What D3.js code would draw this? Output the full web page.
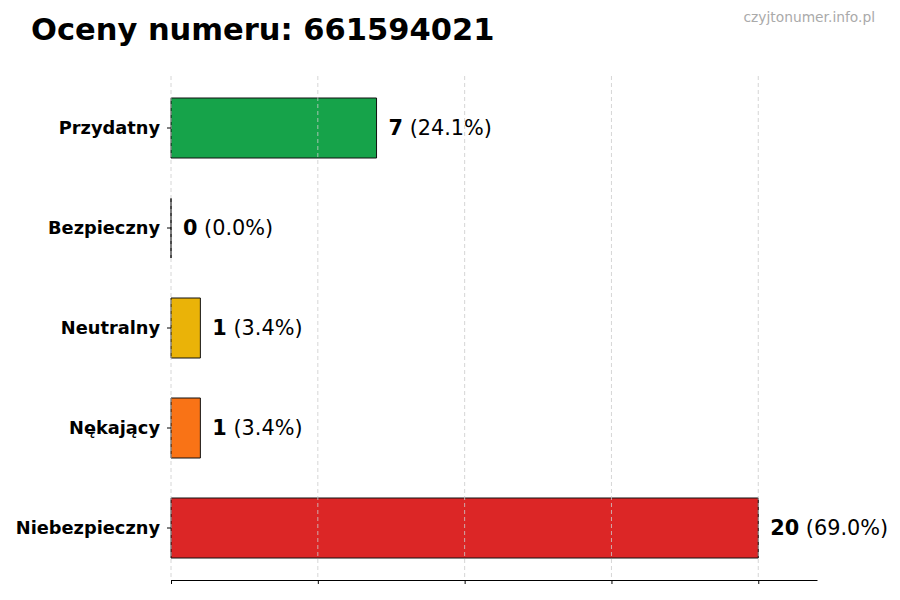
<!doctype html>
<html lang="pl">
<head>
<meta charset="UTF-8">
<title>Oceny numeru</title>
<style>
  body { margin: 0; background: #fff; }
  svg { font-family: "DejaVu Sans", sans-serif; }
</style>
</head>
<body>
<svg width="900" height="600"></svg>
<script src="https://cdn.jsdelivr.net/npm/d3@7"></script>
<script>
var categories = ['Przydatny', 'Bezpieczny', 'Neutralny', 'Nękający', 'Niebezpieczny'];
var counts = [7, 0, 1, 1, 20];
var colors = ['#16a34a', '#6b7280', '#eab308', '#f97316', '#dc2626'];
var xTicks = [0, 5, 10, 15, 20];

var total = d3.sum(counts);
var svg = d3.select('svg');

// tytuł i znak wodny
svg.append('text')
    .attr('x', 31).attr('y', 40)
    .style('font-size', '30.5px').style('font-weight', 'bold')
    .text('Oceny numeru: 661594021');
svg.append('text')
    .attr('x', 875).attr('y', 22)
    .attr('text-anchor', 'end')
    .style('font-size', '13.8px').style('fill', '#aaaaaa')
    .text('czyjtonumer.info.pl');

// skale
var x = d3.scaleLinear().domain([0, 22]).range([171, 817]);
var y = d3.scaleBand().domain(categories).range([78, 578])
    .paddingInner(0.4).paddingOuter(0.2);

// słupki (path, żeby słupek 0 też miał krawędź)
svg.append('g').selectAll('path')
    .data(counts)
    .enter().append('path')
    .attr('d', function(d, i) {
        var x0 = x(0), y0 = y(categories[i]), w = x(d) - x(0), h = y.bandwidth();
        return 'M' + x0 + ',' + y0 + 'h' + w + 'v' + h + 'h' + (-w) + 'Z';
    })
    .attr('fill', function(d, i) { return colors[i]; })
    .attr('stroke', '#111')
    .attr('stroke-width', 1);

// siatka (nad słupkami)
svg.append('g').selectAll('line')
    .data(xTicks)
    .enter().append('line')
    .attr('x1', function(d) { return x(d); })
    .attr('x2', function(d) { return x(d); })
    .attr('y1', 76).attr('y2', 580)
    .attr('stroke', '#cccccc')
    .attr('stroke-width', 0.8)
    .attr('stroke-dasharray', '4,3');

// oś x bez etykiet
var xAxis = svg.append('g')
    .attr('transform', 'translate(0,580)')
    .call(d3.axisBottom(x).tickValues(xTicks).tickFormat('').tickSize(4).tickSizeOuter(0));
xAxis.select('.domain').attr('stroke', '#000').attr('stroke-width', 1);
xAxis.selectAll('.tick line').attr('stroke', '#000');

// oś y: etykiety kategorii
var yAxis = svg.append('g')
    .attr('transform', 'translate(171,0)')
    .call(d3.axisLeft(y).tickSize(4).tickPadding(7));
yAxis.select('.domain').remove();
yAxis.selectAll('.tick line').attr('stroke', '#000');
yAxis.selectAll('.tick text')
    .style('font-family', '"DejaVu Sans", sans-serif')
    .style('font-size', '17.8px')
    .style('font-weight', 'bold')
    .style('fill', '#000');

// wartości
var labels = svg.append('g').selectAll('text')
    .data(counts)
    .enter().append('text')
    .attr('x', function(d) { return x(d) + 12; })
    .attr('y', function(d, i) { return y(categories[i]) + y.bandwidth() / 2; })
    .attr('dy', '0.35em')
    .style('font-size', '20.8px');
labels.append('tspan')
    .style('font-weight', 'bold')
    .text(function(d) { return d; });
labels.append('tspan')
    .text(function(d) { return ' (' + (d / total * 100).toFixed(1) + '%)'; });
</script>
</body>
</html>
